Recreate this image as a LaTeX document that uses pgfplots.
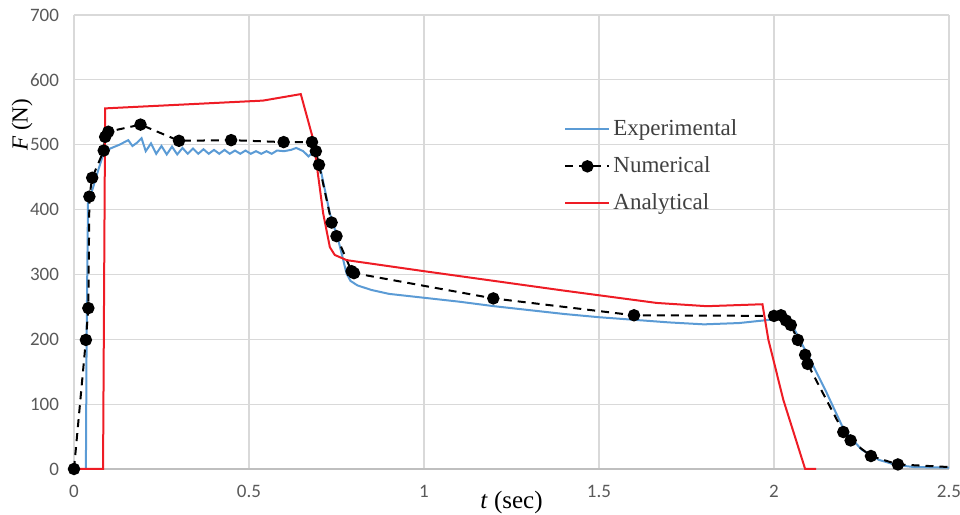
\documentclass[border=0pt]{standalone}
\usepackage{fontspec}
\setmainfont{Liberation Serif}
\newfontfamily\carlito{Carlito}
\usepackage{pgfplots}
\pgfplotsset{compat=1.18}
\definecolor{expblue}{HTML}{5B9BD5}
\definecolor{anared}{HTML}{EE1C25}
\definecolor{gridgray}{HTML}{D9D9D9}
\definecolor{ticktext}{HTML}{595959}
\definecolor{legtext}{HTML}{404040}
\begin{document}
\begin{tikzpicture}
\begin{axis}[
  scale only axis, width=437.5pt, height=227pt,
  xmin=0, xmax=2.5, ymin=0, ymax=700,
  xtick={0,0.5,1,1.5,2,2.5}, ytick={0,100,200,300,400,500,600,700},
  xticklabels={0,0.5,1,1.5,2,2.5},
  grid=major, major grid style={draw=gridgray, line width=0.6pt},
  axis x line=bottom, axis y line=left,
  x axis line style={-, draw=black!25, line width=0.7pt},
  y axis line style={draw=none},
  major tick length=0pt,
  /pgf/number format/assume math mode=true,
  ticklabel style={font=\carlito\fontsize{9.5}{11}\selectfont, text=ticktext},
  xticklabel style={anchor=center, yshift=-11pt},
  yticklabel style={anchor=east, xshift=-4pt},
  xlabel={\textit{t} (sec)}, ylabel={\textit{F} (N)},
  label style={text=ticktext},
  every axis x label/.style={at={(rel axis cs:0.5,0)}, anchor=center, yshift=-17pt, font=\fontsize{12.5}{14}\selectfont},
  every axis y label/.style={at={(rel axis cs:0,0.758)}, anchor=center, rotate=90, yshift=26pt, font=\fontsize{11.5}{14}\selectfont},
  clip=false,
  legend cell align=left,
  legend style={at={(axis cs:1.40,545)}, anchor=north west, draw=none, fill=none,
    font=\fontsize{11.5}{13}\selectfont, text=legtext, inner sep=0pt, row sep=5pt,
    nodes={inner xsep=1.5pt}},
  legend image code/.code={\draw[mark repeat=2,mark phase=2,#1,mark indices={2}] plot coordinates {(0pt,0pt) (11pt,0pt) (22pt,0pt)};},
]
\coordinate (sw) at (rel axis cs:0,0);
\coordinate (ne) at (rel axis cs:1,1);
\addplot[expblue, line width=1pt, no marks] coordinates {
(0.034,0) (0.036,200) (0.040,410) (0.055,435) (0.070,462) (0.084,486) (0.103,494) (0.130,500)
(0.155,507) (0.167,498) (0.180,503) (0.193,510) (0.205,490) (0.220,502) (0.235,486) (0.250,498)
(0.265,485) (0.280,497) (0.295,485) (0.310,495) (0.325,486) (0.340,494) (0.355,486) (0.370,493)
(0.385,486) (0.400,492) (0.415,486) (0.430,492) (0.445,486) (0.460,491) (0.475,486) (0.490,491)
(0.505,486) (0.520,490) (0.535,486) (0.550,490) (0.565,486) (0.580,491) (0.600,490) (0.620,492)
(0.635,495) (0.655,490) (0.670,482) (0.684,489) (0.703,466) (0.731,394) (0.755,353) (0.779,301)
(0.790,290) (0.810,283) (0.850,276) (0.900,270) (1.000,264) (1.100,258) (1.200,251) (1.300,245)
(1.400,239) (1.500,234) (1.600,230) (1.700,226) (1.800,223) (1.900,225) (1.970,229) (2.000,231)
(2.030,233) (2.050,224) (2.070,203) (2.100,172) (2.150,118) (2.200,60) (2.250,30) (2.300,14)
(2.350,6) (2.400,3) (2.500,2)
};
\addlegendentry{Experimental}
\addplot[black, line width=1pt, dash pattern=on 4pt off 3pt, mark=*, mark size=2.6pt,
  mark options={solid}, mark indices={1,...,32}] coordinates {
(0,0) (0.034,199) (0.041,248) (0.044,420) (0.052,449) (0.085,491) (0.089,512) (0.098,520)
(0.190,531) (0.300,506) (0.449,507) (0.599,504) (0.680,504) (0.691,490) (0.700,469) (0.736,380)
(0.750,359) (0.793,305) (0.800,302) (1.198,263) (1.600,237) (2.000,236) (2.020,237) (2.034,229)
(2.048,222) (2.068,199) (2.089,176) (2.096,162) (2.198,57) (2.219,44) (2.277,20) (2.354,7)
(2.500,3)
};
\addlegendentry{Numerical}
\addplot[anared, line width=1pt, no marks] coordinates {
(0,0) (0.083,0) (0.089,556) (0.540,568) (0.648,578) (0.684,507) (0.712,394) (0.731,342)
(0.745,330) (0.779,322) (1.000,305) (1.200,290) (1.400,275) (1.665,256) (1.808,251) (1.967,254)
(1.984,199) (2.027,106) (2.089,0) (2.120,0)
};
\addlegendentry{Analytical}
\end{axis}
\pgfresetboundingbox
\path[use as bounding box] ([shift={(-37pt,-23pt)}]sw) rectangle ([shift={(5.5pt,7.5pt)}]ne);
\end{tikzpicture}
\end{document}
